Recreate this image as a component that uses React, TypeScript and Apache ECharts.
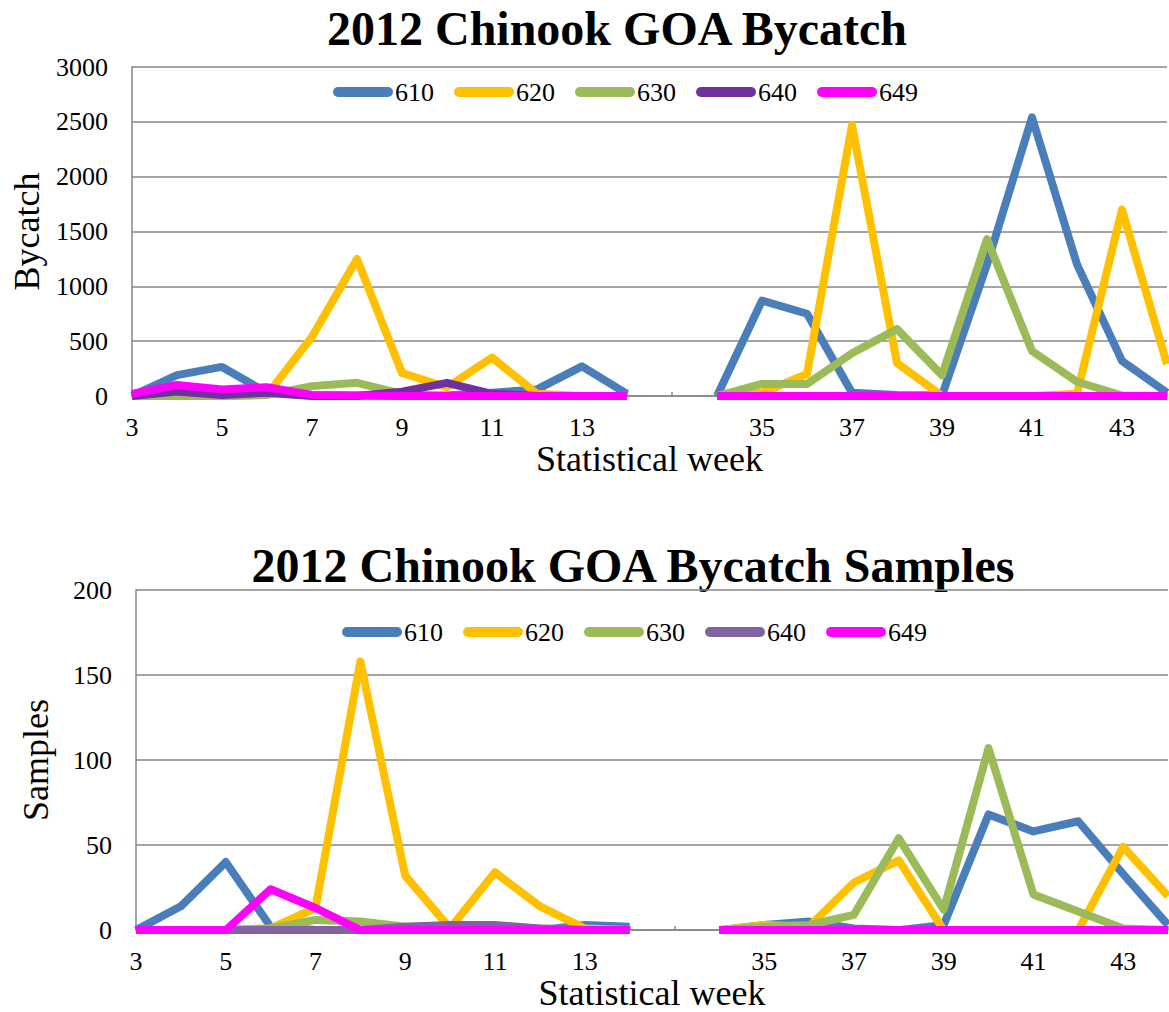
import React, { useEffect, useRef } from "react";
import * as echarts from "echarts";

const weeks = ["3","4","5","6","7","8","9","10","11","12","13","14","","34","35","36","37","38","39","40","41","42","43","44"];
const seriesNames = ["610", "620", "630", "640", "649"];

// Bycatch (top chart)
const byc610 = [0, 190, 265, 30, 5, 5, 5, 5, 30, 60, 270, 20, null, 0, 870, 750, 30, 10, 5, 1200, 2540, 1200, 320, 30];
const byc620 = [0, 0, 0, 10, 540, 1250, 210, 80, 350, 20, 0, 0, null, 0, 30, 200, 2470, 300, 0, 0, 0, 20, 1700, 290];
const byc630 = [0, 0, 0, 10, 90, 120, 20, 0, 0, 0, 0, 0, null, 0, 110, 110, 390, 610, 190, 1430, 410, 130, 5, 0];
const byc640 = [0, 40, 10, 30, 0, 0, 40, 120, 20, 0, 0, 0, null, 0, 0, 0, 0, 0, 0, 0, 0, 0, 0, 0];
const byc649 = [20, 100, 60, 80, 10, 5, 0, 0, 0, 0, 0, 0, null, 0, 0, 0, 0, 0, 0, 0, 0, 0, 0, 0];

// Samples (bottom chart)
const smp610 = [0, 14, 40, 2, 0, 0, 0, 0, 0, 0, 3, 2, null, 0, 3, 5, 1, 0, 3, 68, 58, 64, 33, 3];
const smp620 = [0, 0, 0, 1, 13, 158, 32, 1, 34, 14, 1, 0, null, 0, 3, 2, 28, 41, 0, 0, 0, 0, 49, 20];
const smp630 = [0, 0, 0, 1, 6, 5, 2, 2, 2, 1, 0, 0, null, 0, 2, 3, 9, 54, 12, 107, 21, 11, 1, 0];
const smp640 = [0, 0, 0, 0, 0, 0, 2, 3, 3, 1, 0, 0, null, 0, 0, 0, 0, 0, 0, 0, 0, 0, 0, 0];
const smp649 = [0, 0, 0, 24, 13, 0, 0, 0, 0, 0, 0, 0, null, 0, 0, 0, 0, 0, 0, 0, 0, 0, 0, 0];

const topColors = ["#4A7EBB", "#FFC000", "#9BBB59", "#7030A0", "#FF00FF"];
const botColors = ["#4A7EBB", "#FFC000", "#9BBB59", "#8064A2", "#FF00FF"];

const FONT = "'Liberation Serif', 'Times New Roman', serif";
const GRAY = "#868686";

export default function App() {
  const ref = useRef<HTMLDivElement>(null);
  useEffect(() => {
    if (!ref.current) return;
    const chart = echarts.init(ref.current, null, { renderer: "svg" });
    const topData = [byc610, byc620, byc630, byc640, byc649];
    const botData = [smp610, smp620, smp630, smp640, smp649];

    const mkSeries = (data: (number | null)[], name: string, color: string, idx: number) => ({
      type: "line",
      name,
      data,
      xAxisIndex: idx,
      yAxisIndex: idx,
      symbol: "none",
      connectNulls: false,
      silent: true,
      color,
      lineStyle: { color, width: 8, join: "round", cap: "butt" },
      emphasis: { disabled: true },
    });

    const xAxisBase = (gridIndex: number) => ({
      type: "category",
      gridIndex,
      data: weeks,
      boundaryGap: false,
      axisLine: { show: true, lineStyle: { color: GRAY, width: 1.5 } },
      axisTick: { show: true, inside: true, length: 4, interval: 0, lineStyle: { color: GRAY, width: 1.5 } },
      axisLabel: { interval: 1, fontFamily: FONT, fontSize: 26, color: "#000", margin: 18 },
      splitLine: { show: false },
      name: "Statistical week",
      nameLocation: "middle",
      nameGap: 44,
      nameTextStyle: { fontFamily: FONT, fontSize: 36, color: "#000" },
    });

    const yAxisBase = (gridIndex: number, max: number, interval: number, name: string, gap: number) => ({
      type: "value",
      gridIndex,
      min: 0,
      max,
      interval,
      axisLine: { show: true, lineStyle: { color: GRAY, width: 1.5 } },
      axisTick: { show: false },
      axisLabel: { fontFamily: FONT, fontSize: 26, color: "#000", margin: 24, formatter: (v: number) => String(v) },
      splitLine: { show: true, lineStyle: { color: GRAY, width: 1.5 } },
      name,
      nameLocation: "middle",
      nameGap: gap,
      nameTextStyle: { fontFamily: FONT, fontSize: 36, color: "#000" },
    });

    // Legend drawn as graphic elements (capsule icon + serif label)
    const legendItems = (x0: number, yc: number, colors: string[]) =>
      seriesNames.flatMap((n, i) => {
        const x = x0 + i * 121;
        return [
          { type: "rect", x, y: yc - 5, shape: { x: 0, y: 0, width: 60, height: 10, r: 5 }, style: { fill: colors[i] }, silent: true },
          {
            type: "text",
            x: x + 62,
            y: yc,
            style: { text: n, font: `26px ${FONT}`, fill: "#000", textAlign: "left", textVerticalAlign: "middle" },
            silent: true,
          },
        ];
      });

    chart.setOption({
      animation: false,
      backgroundColor: "#fff",
      textStyle: { fontFamily: FONT },
      graphic: [
        {
          type: "text",
          x: 617,
          y: 28,
          style: { text: "2012 Chinook GOA Bycatch", font: `bold 48px ${FONT}`, fill: "#000", textAlign: "center", textVerticalAlign: "middle" },
        },
        {
          type: "text",
          x: 633,
          y: 565,
          style: { text: "2012 Chinook GOA Bycatch Samples", font: `bold 48px ${FONT}`, fill: "#000", textAlign: "center", textVerticalAlign: "middle" },
        },
        ...legendItems(333, 92, topColors),
        ...legendItems(342, 632, botColors),
      ],
      grid: [
        { left: 132, top: 67, right: 2, height: 329 },
        { left: 136, top: 590, right: 1, height: 342 },
      ],
      xAxis: [xAxisBase(0), xAxisBase(1)],
      yAxis: [yAxisBase(0, 3000, 500, "Bycatch", 86), yAxisBase(1, 200, 50, "Samples", 82)],
      series: [
        ...topData.map((d, i) => mkSeries(d, seriesNames[i], topColors[i], 0)),
        ...botData.map((d, i) => mkSeries(d, seriesNames[i], botColors[i], 1)),
      ],
    });
    return () => chart.dispose();
  }, []);
  return <div ref={ref} style={{ position: "absolute", left: 0, top: 0, width: 1169, height: 1012 }} />;
}
